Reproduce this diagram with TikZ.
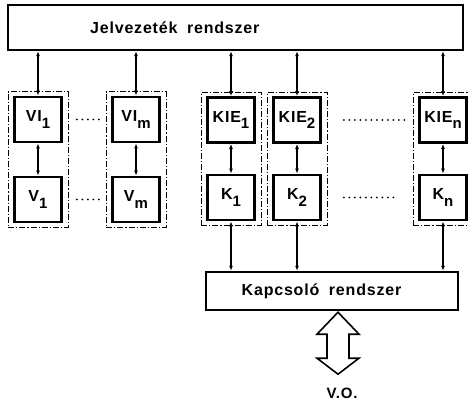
\documentclass[tikz,border=0pt]{standalone}
\usepackage{fontspec}
\newfontfamily\lab{Liberation Sans}[LetterSpace=5]
\usetikzlibrary{arrows.meta,fit,calc}
\newcommand\dn[1]{\raisebox{-0.38em}{\fontsize{15}{15}\selectfont #1}}
\begin{document}
\begin{tikzpicture}[x=1pt,y=-1pt,
  sysbox/.style={draw, line width=2.4pt, inner sep=0pt},
  unit/.style={draw, line width=2.8pt, minimum width=47pt, minimum height=45pt, inner sep=0pt,
    font=\lab\bfseries\fontsize{16}{16}\selectfont},
  txt/.style={font=\lab\bfseries\fontsize{16}{16}\selectfont, inner sep=0pt},
  grp/.style={draw, line width=0.7pt, dash pattern=on 6pt off 2pt on 1.2pt off 2pt,
    inner xsep=5pt, inner ysep=4pt},
  link/.style={line width=1.7pt, arrows={Latex[length=5pt,width=4pt]-Latex[length=5pt,width=4pt]}},
  dotrow/.style={line width=2pt, line cap=round, dash pattern=on 0pt off 5.5pt}
]
\useasboundingbox (0,0) rectangle (468,403);
% system boxes
\node[sysbox, minimum width=455pt, minimum height=45pt] (jel) at (235.5,27.5) {};
\node[txt, anchor=west] (jeltxt) at (90,28) {Jelvezeték\hspace{0.6em}rendszer};
\node[sysbox, minimum width=252pt, minimum height=38pt] (kap) at (332,291) {};
\node[txt] (kaptxt) at (321.5,291) {Kapcsoló\hspace{0.6em}rendszer};
% units
\node[unit] (vi1) at (38,119.5) {VI\dn{1}};
\node[unit] (v1) at (38,199.5) {V\dn{1}};
\node[unit] (vim) at (136,119.5) {VI\dn{m}};
\node[unit] (vm) at (136,199.5) {V\dn{m}};
\node[unit] (kie1) at (231,120) {KIE\dn{1}};
\node[unit] (k1) at (231,197.5) {K\dn{1}};
\node[unit] (kie2) at (297,120) {KIE\dn{2}};
\node[unit] (k2) at (297,197.5) {K\dn{2}};
\node[unit] (kien) at (443,120) {KIE\dn{n}};
\node[unit] (kn) at (443,197.5) {K\dn{n}};
% groups
\node[grp, fit=(vi1)(v1)] (g1) {};
\node[grp, fit=(vim)(vm)] (gm) {};
\node[grp, fit=(kie1)(k1)] (gk1) {};
\node[grp, fit=(kie2)(k2)] (gk2) {};
\node[grp, fit=(kien)(kn)] (gkn) {};
% links to signalling system
\foreach \u in {vi1,vim,kie1,kie2,kien}{
  \draw[link] (jel.south -| \u.north) -- (\u.north);
}
% links inside groups
\draw[link] (vi1.south) -- (v1.north);
\draw[link] (vim.south) -- (vm.north);
\draw[link] (kie1.south) -- (k1.north);
\draw[link] (kie2.south) -- (k2.north);
\draw[link] (kien.south) -- (kn.north);
% links to switching system
\foreach \u in {k1,k2,kn}{
  \draw[link] (\u.south) -- (\u.south |- kap.north);
}
% dots
\draw[dotrow] ([xshift=14pt]vi1.east) -- ([xshift=-10pt]vim.west);
\draw[dotrow] ([xshift=14pt]v1.east) -- ([xshift=-10pt]vm.west);
\draw[dotrow] ([xshift=22pt]kie2.east) -- ([xshift=-12pt]kien.west);
\draw[dotrow] ([xshift=22pt]k2.east) -- ([xshift=-22pt]kn.west);
% big double arrow
\coordinate (atop) at ([xshift=6pt,yshift=-1pt]kap.south);
\draw[line width=1.6pt, line join=miter] (atop) -- ++(21,22) -- ++(-10,0) -- ++(0,24) -- ++(10,0)
  -- ++(-21,16) -- ++(-21,-16) -- ++(10,0) -- ++(0,-24) -- ++(-10,0) -- cycle;
\node[txt, font=\lab\bfseries\fontsize{15}{15}\selectfont] (vo) at (342,393) {V.O.};
\end{tikzpicture}
\end{document}
